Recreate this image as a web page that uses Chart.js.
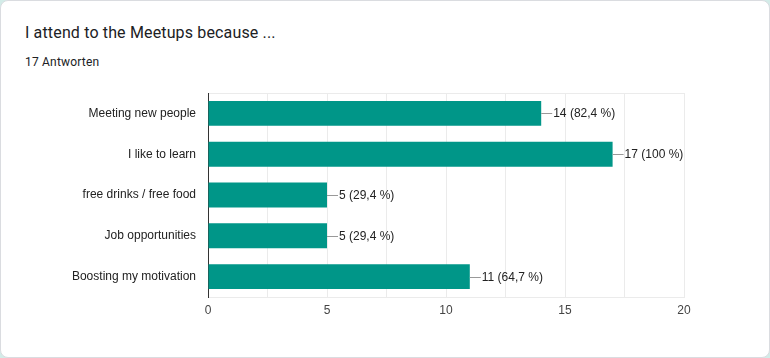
<!DOCTYPE html>
<html>
<head>
<meta charset="utf-8">
<script src="https://cdn.jsdelivr.net/npm/chart.js@4.4.1/dist/chart.umd.min.js"></script>
<style>
  html, body { margin: 0; padding: 0; background: #d3ece8; width: 770px; height: 358px; overflow: hidden; }
  .card { position: absolute; left: 0; top: 0; width: 768px; height: 356px; background: #fff; border: 1px solid #dadce0; border-radius: 8px; overflow: hidden; }
  .title { position: absolute; left: 24px; top: 22px; font-family: Roboto, "Liberation Sans", sans-serif; font-size: 16px; color: #202124; letter-spacing: 0.15px; white-space: nowrap; }
  .sub { position: absolute; left: 24px; top: 54px; font-family: Roboto, "Liberation Sans", sans-serif; font-size: 12px; color: #202124; letter-spacing: 0.2px; white-space: nowrap; }
  canvas { position: absolute; left: 0; top: 0; }
</style>
</head>
<body>
<div class="card">
  <div class="title">I attend to the Meetups because ...</div>
  <div class="sub">17 Antworten</div>
</div>
<canvas id="c" width="770" height="358" style="width:770px;height:358px"></canvas>
<script>
const categories = ["Meeting new people", "I like to learn", "free drinks / free food", "Job opportunities", "Boosting my motivation"];
const counts = [14, 17, 5, 5, 11];
const totalResponses = 17;
const xTickLabels = [0, 5, 10, 15, 20];

const valueLabels = {
  id: 'valueLabels',
  afterDatasetsDraw(chart) {
    const ctx = chart.ctx;
    const meta = chart.getDatasetMeta(0);
    ctx.save();
    ctx.font = '12px "Liberation Sans", Arial, sans-serif';
    ctx.textBaseline = 'middle';
    ctx.textAlign = 'left';
    meta.data.forEach((bar, i) => {
      const v = counts[i];
      const pct = (v / totalResponses * 100).toFixed(1).replace(/\.0$/, '').replace('.', ',');
      const x = bar.x, y = Math.round(bar.y) + 0.5;
      ctx.strokeStyle = '#999';
      ctx.lineWidth = 1;
      ctx.beginPath();
      ctx.moveTo(x, y);
      ctx.lineTo(x + 11, y);
      ctx.stroke();
      ctx.fillStyle = '#222';
      ctx.fillText(v + ' (' + pct + ' %)', x + 12, y);
    });
    ctx.restore();
  }
};

new Chart(document.getElementById('c'), {
  type: 'bar',
  data: {
    labels: categories,
    datasets: [{
      data: counts,
      backgroundColor: '#009688',
      borderWidth: 0,
      barPercentage: 0.61,
      categoryPercentage: 1.0
    }]
  },
  options: {
    indexAxis: 'y',
    responsive: false,
    animation: false,
    layout: { padding: { left: 0, top: 93, right: 86, bottom: 0 } },
    plugins: { legend: { display: false }, tooltip: { enabled: false } },
    scales: {
      x: {
        min: 0, max: 20,
        afterBuildTicks(axis) {
          const t = [];
          for (let v = 0; v <= 20; v += 2.5) t.push({ value: v });
          axis.ticks = t;
        },
        ticks: {
          autoSkip: false,
          maxRotation: 0,
          padding: 6,
          color: '#444',
          font: { family: '"Liberation Sans", Arial, sans-serif', size: 12 },
          callback: (v) => xTickLabels.includes(v) ? String(v) : ''
        },
        grid: { color: '#ebebeb', drawTicks: false },
        border: { color: '#ebebeb' },
        afterFit(axis) { axis.height = 61; }
      },
      y: {
        ticks: {
          padding: 12,
          color: '#222',
          font: { family: '"Liberation Sans", Arial, sans-serif', size: 12 }
        },
        grid: {
          drawTicks: false,
          color: (c) => (c.index === 0 ? '#ebebeb' : 'rgba(0,0,0,0)')
        },
        border: { color: '#333', width: 1 },
        afterFit(axis) { axis.width = 208; }
      }
    }
  },
  plugins: [valueLabels]
});
</script>
</body>
</html>
